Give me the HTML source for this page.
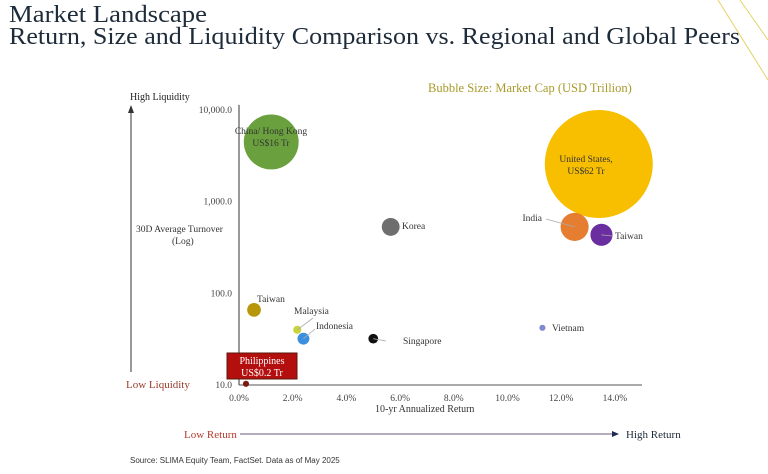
<!DOCTYPE html>
<html><head><meta charset="utf-8"><style>
body{margin:0;background:#fff;}
svg{display:block;font-family:"Liberation Serif",serif;}
</style></head><body>
<svg width="768" height="474" viewBox="0 0 768 474" xmlns="http://www.w3.org/2000/svg">
<line x1="718" y1="0" x2="768" y2="80" stroke="#e3d36a" stroke-width="1"/>
<line x1="740" y1="0" x2="768" y2="40" stroke="#e3d36a" stroke-width="1"/>
<text x="9" y="22" font-size="24" fill="#1d2b3a" textLength="198" lengthAdjust="spacingAndGlyphs">Market Landscape</text>
<text x="9" y="44" font-size="24" fill="#1d2b3a" textLength="731" lengthAdjust="spacingAndGlyphs">Return, Size and Liquidity Comparison vs. Regional and Global Peers</text>
<text x="428" y="92" font-size="12.5" fill="#a89a2a">Bubble Size: Market Cap (USD Trillion)</text>
<text x="130" y="100" font-size="10" fill="#222">High Liquidity</text>
<line x1="131" y1="372" x2="131" y2="112" stroke="#333"/>
<polygon points="128,113 134,113 131,105" fill="#333"/>
<text x="126" y="388" font-size="11" fill="#9a3a2a">Low Liquidity</text>
<text x="136" y="232" font-size="9.5" fill="#333">30D Average Turnover</text>
<text x="172" y="244" font-size="9.5" fill="#333">(Log)</text>
<g id="axes"></g>
<g id="marks"></g>
<text x="375" y="412" font-size="10" fill="#333">10-yr Annualized Return</text>
<text x="184" y="438" font-size="11" fill="#b33a2a">Low Return</text>
<line x1="240" y1="434" x2="612" y2="434" stroke="#6b5a7a"/>
<polygon points="612,431 612,437 619,434" fill="#1d2b50"/>
<text x="626" y="438" font-size="11" fill="#1d2b3a">High Return</text>
<text x="130" y="463" font-size="8" font-family="Liberation Sans, sans-serif" fill="#333">Source: SLIMA Equity Team, FactSet. Data as of May 2025</text>
<script>
const countries=["China/ Hong Kong","United States","India","Taiwan","Korea","Taiwan","Malaysia","Indonesia","Singapore","Vietnam","Philippines"];
const returns=[1.2,13.4,12.5,13.5,5.65,0.56,2.17,2.4,5.0,11.3,0.26];
const turnover=[4470,2570,530,434,530,66,40,32,32,42,10.3];
const marketCap=[16,62,4.2,2.6,1.7,1.0,0.35,0.75,0.5,0.2,0.2];
const colors=["#6aa13e","#f8bf00","#e67e32","#6a2ea0","#6e6e6e","#b8960a","#c9d43a","#3a8fe0","#111","#7f8ad0","#7a1a10"];
const xTicks=[0,2,4,6,8,10,12,14];
const yTicks=[10,100,1000,10000];
const NS="http://www.w3.org/2000/svg";
const X0=239,XS=26.85,YB=385,YD=91.7;
const xs=v=>X0+v*XS;
const ys=v=>YB-(Math.log10(v)-1)*YD;
const rs=c=>6.86*Math.sqrt(c);
function mk(t,a,p){const e=document.createElementNS(NS,t);for(const k in a)e.setAttribute(k,a[k]);p.appendChild(e);return e;}
const ax=document.getElementById('axes'),mg=document.getElementById('marks');
let l=mk('line',{x1:X0,y1:ys(10000)-5,x2:X0,y2:YB,stroke:'#333'},ax);


l=mk('line',{x1:X0,y1:YB,x2:642,y2:YB,stroke:'#555'},ax);


xTicks.forEach(v=>{const t=mk('text',{x:xs(v),y:401,'font-size':9.5,fill:'#444','text-anchor':'middle'},ax);t.textContent=v.toFixed(1)+'%';

});
yTicks.forEach(v=>{const t=mk('text',{x:X0-7,y:ys(v)+3,'font-size':9.5,fill:'#444','text-anchor':'end'},ax);t.textContent=v.toLocaleString('en-US',{minimumFractionDigits:1,maximumFractionDigits:1});

});
countries.forEach((c,i)=>{const cx=xs(returns[i]),cy=ys(turnover[i]);const b=mk('circle',{cx:cx,cy:cy,r:Math.max(2.5,rs(marketCap[i])),fill:colors[i]},mg);

});
const leaders=[[2,546,219],[3,612,236],[6,313,318],[7,315,329],[8,386,341]];
leaders.forEach(L=>{const ln=mk('line',{x1:xs(returns[L[0]]),y1:ys(turnover[L[0]]),x2:L[1],y2:L[2],stroke:'#aaa','stroke-width':0.8},mg);

});
const labels=[[0,271,134,"China/ Hong Kong","middle"],[0,271,146,"US$16 Tr","middle"],[1,586,162,"United States,","middle"],[1,586,174,"US$62 Tr","middle"],[2,542,221,"India","end"],[3,615,239,"Taiwan","start"],[4,402,229,"Korea","start"],[5,257,302,"Taiwan","start"],[6,294,314,"Malaysia","start"],[7,316,329,"Indonesia","start"],[8,403,344,"Singapore","start"],[9,552,331,"Vietnam","start"]];
labels.forEach(L=>{const t=mk('text',{x:L[1],y:L[2],'font-size':9.5,fill:'#333','text-anchor':L[4]},mg);t.textContent=L[3];

});
const bx=mk('rect',{x:227,y:353,width:70,height:26,fill:'#b30f0f',stroke:'#5a1a0a'},mg);


[["Philippines",364],["US$0.2 Tr",376]].forEach(a=>{const t=mk('text',{x:262,y:a[1],'font-size':10,fill:'#fff','text-anchor':'middle'},mg);t.textContent=a[0];

});
</script>
</svg>
</body></html>
